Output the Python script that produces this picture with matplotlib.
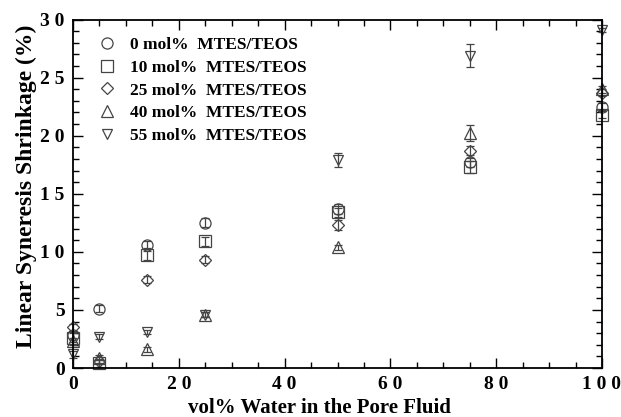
import matplotlib
matplotlib.use('Agg')
import matplotlib.pyplot as plt
from matplotlib.ticker import MultipleLocator, FuncFormatter
from matplotlib.transforms import ScaledTranslation

# vol% water in pore fluid
water = [0, 5, 14, 25, 50, 75, 100]

labels = ['0 mol%  MTES/TEOS', '10 mol%  MTES/TEOS', '25 mol%  MTES/TEOS',
          '40 mol%  MTES/TEOS', '55 mol%  MTES/TEOS']
markers = ['o', 's', 'D', '^', 'v']
sizes = [8, 8, 6, 8, 7]

shrink_0 = [2.8, 5.1, 10.6, 12.5, 13.7, 17.7, 22.5]
shrink_10 = [2.6, 0.4, 9.7, 10.9, 13.4, 17.3, 21.8]
shrink_25 = [3.5, 0.6, 7.6, 9.3, 12.3, 18.7, 23.7]
shrink_40 = [2.3, 0.9, 1.6, 4.6, 10.4, 20.2, 24.0]
shrink_55 = [1.2, 2.7, 3.1, 4.6, 17.9, 26.9, 29.1]

err_0 = [0.4, 0.3, 0.3, 0.4, 0.4, 0.4, 0.3]
err_10 = [0.4, 0.3, 0.4, 0.4, 0.4, 0.5, 0.3]
err_25 = [0.3, 0.2, 0.3, 0.3, 0.4, 0.4, 0.3]
err_40 = [0.3, 0.2, 0.2, 0.2, 0.2, 0.7, 0.3]
err_55 = [0.3, 0.2, 0.2, 0.2, 0.6, 1.0, 0.2]

series = [shrink_0, shrink_10, shrink_25, shrink_40, shrink_55]
errors = [err_0, err_10, err_25, err_40, err_55]

plt.rcParams['font.family'] = ['Liberation Serif', 'DejaVu Serif']
plt.rcParams['font.weight'] = 'bold'

fig = plt.figure(figsize=(6.21, 4.17), dpi=100)
ax = fig.add_axes([0.1176, 0.1175, 0.8518, 0.8357])

ec = '#444444'
handles = []
for y, e, m, s, lab in zip(series, errors, markers, sizes, labels):
    cont = ax.errorbar(water, y, yerr=e, fmt=m, ms=s, mfc='none', mec=ec,
                       mew=0.9, ecolor=ec, elinewidth=0.9, capsize=3,
                       capthick=0.9, label=lab, clip_on=False)
    handles.append(cont[0])

# tick labels in the original are printed with wide letter spacing
spaced = FuncFormatter(lambda v, pos: ' '.join('%d' % v))

ax.set_xlim(0, 100)
ax.set_ylim(0, 30)
ax.xaxis.set_major_locator(MultipleLocator(20))
ax.xaxis.set_minor_locator(MultipleLocator(5))
ax.yaxis.set_major_locator(MultipleLocator(5))
ax.yaxis.set_minor_locator(MultipleLocator(1))
ax.xaxis.set_major_formatter(spaced)
ax.yaxis.set_major_formatter(spaced)
ax.tick_params(which='both', direction='in', top=True, right=True,
               labelsize=14, width=1)
ax.tick_params(which='major', length=7, pad=6)
ax.tick_params(which='minor', length=4)
for sp in ax.spines.values():
    sp.set_linewidth(1.3)

fig.canvas.draw()
# keep the last x label inside the figure
last = ax.get_xticklabels()[-1]
last.set_transform(last.get_transform() + ScaledTranslation(-5 / 100, 0, fig.dpi_scale_trans))

ax.set_xlabel('vol% Water in the Pore Fluid', fontsize=15, fontweight='bold')
ax.xaxis.set_label_coords(0.465, -0.085)
ax.set_ylabel('Linear Syneresis Shrinkage (%)', fontsize=17,
              fontweight='bold')
ax.yaxis.set_label_coords(-0.068, 0.52)

ax.legend(handles, labels, loc='upper left', bbox_to_anchor=(0.015, 0.995),
          frameon=False, handlelength=1.2, handletextpad=0.7,
          labelspacing=0.38, prop={'weight': 'bold', 'size': 12.5})

fig.savefig('out.png', dpi=100)
